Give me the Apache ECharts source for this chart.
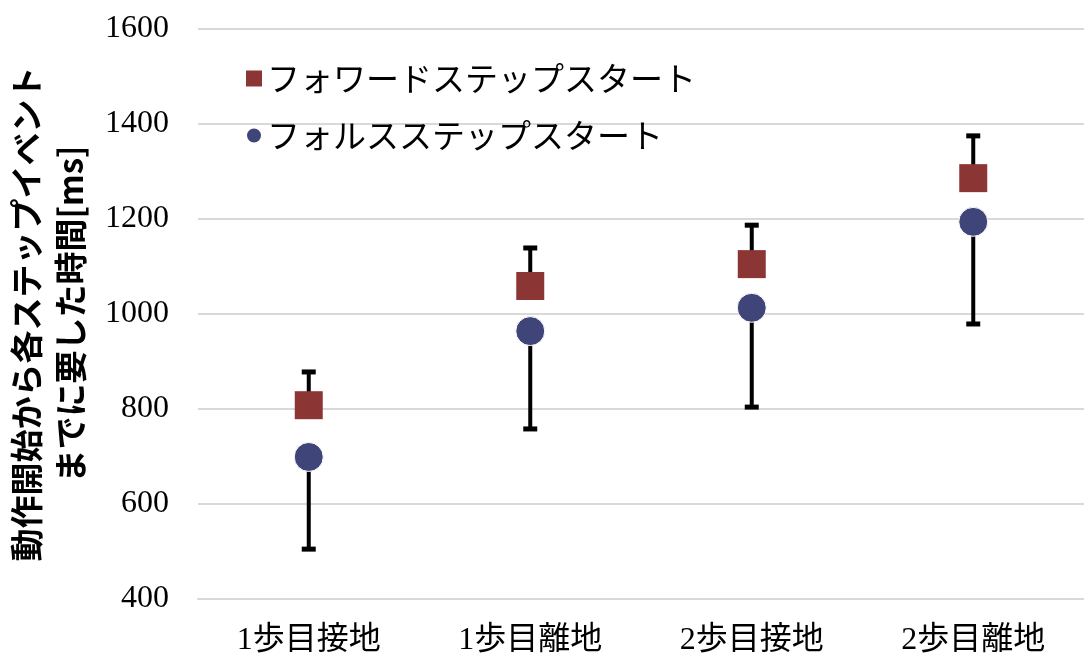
<!DOCTYPE html>
<html>
<head>
<meta charset="utf-8">
<script src="https://cdn.jsdelivr.net/npm/echarts@6/dist/echarts.min.js"></script>
<style>
  html, body { margin: 0; padding: 0; background: #fff; }
  #chart { width: 1084px; height: 664px; }
</style>
</head>
<body>
<div id="chart"></div>
<script>
// data
const categories = ['1歩目接地', '1歩目離地', '2歩目接地', '2歩目離地'];
const forwardMean = [808, 1059, 1105, 1286];
const forwardUpper = [878, 1139, 1187, 1375];
const fallMean = [699, 964, 1013, 1194];
const fallLower = [505, 758, 804, 979];

const forwardName = 'フォワードステップスタート';
const fallName = 'フォルスステップスタート';

const serif = '"Liberation Serif", "Noto Sans CJK JP", serif';
const gothic = '"Noto Sans CJK JP", sans-serif';

// error bar: line from mean to end, cap at the end
function errorBar(params, api) {
  const from = api.coord([api.value(0), api.value(1)]);
  const to = api.coord([api.value(0), api.value(2)]);
  const hw = 7;
  return {
    type: 'group',
    children: [
      { type: 'line', shape: { x1: from[0], y1: from[1], x2: to[0], y2: to[1] },
        style: { stroke: '#000', lineWidth: 4 } },
      { type: 'line', shape: { x1: to[0] - hw, y1: to[1], x2: to[0] + hw, y2: to[1] },
        style: { stroke: '#000', lineWidth: 5 } }
    ]
  };
}

const chart = echarts.init(document.getElementById('chart'), null, { renderer: 'canvas' });

const option = {
  animation: false,
  grid: { left: 198, right: 0, top: 29, bottom: 65, outerBoundsMode: 'none' },
  legend: {
    orient: 'vertical',
    left: 240,
    top: 57,
    itemWidth: 16,
    itemHeight: 16,
    itemGap: 24,
    textStyle: { fontFamily: gothic, fontSize: 33, color: '#000', lineHeight: 33 },
    data: [
      { name: forwardName, icon: 'rect' },
      { name: fallName, icon: 'circle' }
    ]
  },
  xAxis: {
    type: 'category',
    data: categories,
    axisLine: { lineStyle: { color: '#d9d9d9', width: 2 } },
    axisTick: { show: false },
    axisLabel: { fontFamily: serif, fontSize: 32, color: '#000', margin: 26 }
  },
  yAxis: {
    type: 'value',
    min: 400,
    max: 1600,
    interval: 200,
    name: '動作開始から各ステップイベント\nまでに要した時間[ms]',
    nameLocation: 'middle',
    nameRotate: 90,
    nameGap: 106,
    nameTextStyle: { fontFamily: gothic, fontSize: 33, fontWeight: 'bold', color: '#000', lineHeight: 44 },
    axisLine: { show: false },
    axisTick: { show: false },
    splitLine: { lineStyle: { color: '#d9d9d9', width: 2 } },
    axisLabel: { fontFamily: serif, fontSize: 32, color: '#000', margin: 29, formatter: v => String(v) }
  },
  series: [
    {
      name: 'forwardErr',
      type: 'custom',
      renderItem: errorBar,
      data: categories.map((c, i) => [i, forwardMean[i], forwardUpper[i]]),
      z: 1,
      silent: true
    },
    {
      name: 'fallErr',
      type: 'custom',
      renderItem: errorBar,
      data: categories.map((c, i) => [i, fallMean[i], fallLower[i]]),
      z: 1,
      silent: true
    },
    {
      name: forwardName,
      type: 'scatter',
      symbol: 'rect',
      symbolSize: 28,
      itemStyle: { color: '#8c3535', opacity: 1 },
      data: forwardMean,
      z: 3
    },
    {
      name: fallName,
      type: 'scatter',
      symbol: 'circle',
      symbolSize: 29,
      itemStyle: { color: '#3f4479', borderColor: '#fff', borderWidth: 1, opacity: 1 },
      data: fallMean,
      z: 3
    }
  ]
};

chart.setOption(option);
</script>
</body>
</html>
